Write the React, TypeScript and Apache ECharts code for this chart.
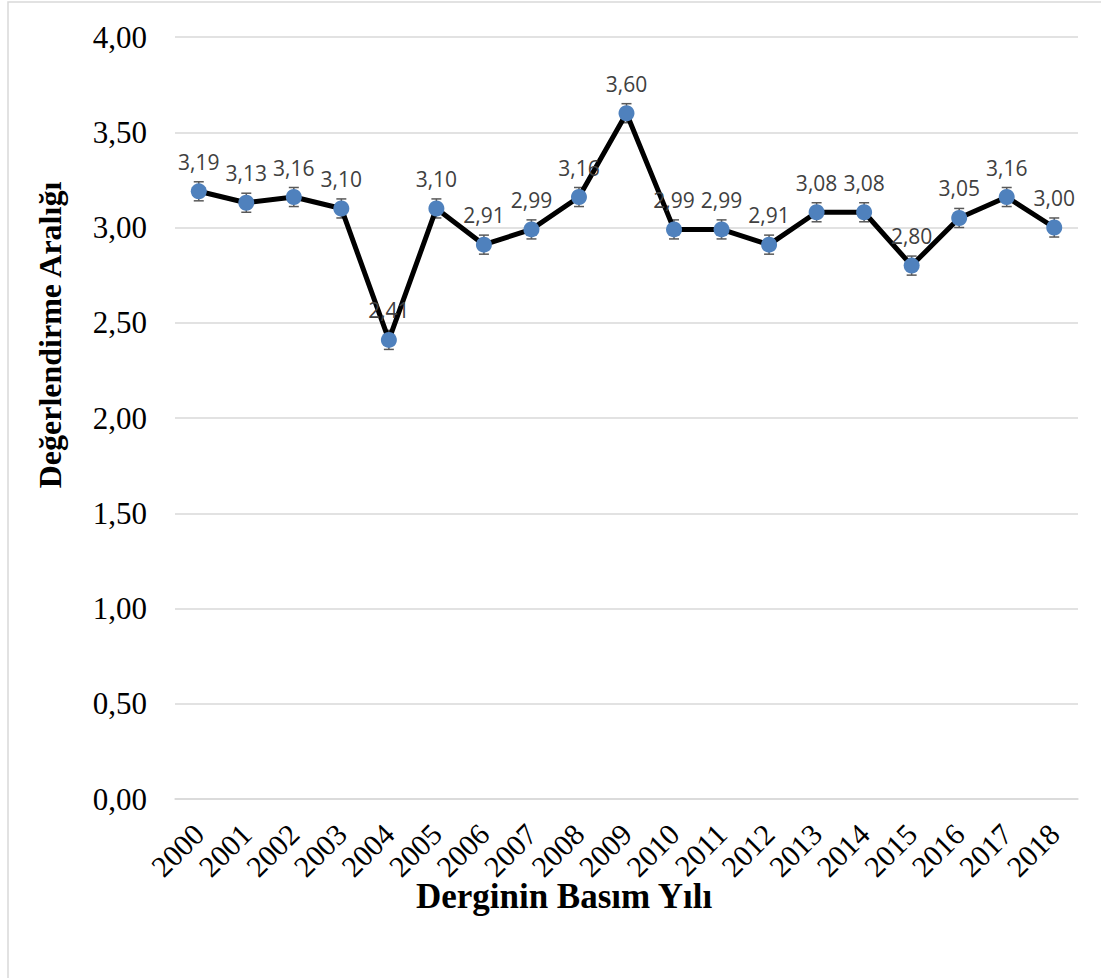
import React, { useEffect, useRef } from "react";
import * as echarts from "echarts";

const years = ["2000","2001","2002","2003","2004","2005","2006","2007","2008","2009","2010","2011","2012","2013","2014","2015","2016","2017","2018"];
const values = [3.19,3.13,3.16,3.10,2.41,3.10,2.91,2.99,3.16,3.60,2.99,2.99,2.91,3.08,3.08,2.80,3.05,3.16,3.00];
const errors = [0.05,0.05,0.05,0.05,0.05,0.05,0.05,0.05,0.05,0.05,0.05,0.05,0.05,0.05,0.05,0.05,0.05,0.05,0.05];
const yTitle = "Değerlendirme Aralığı";
const xTitle = "Derginin Basım Yılı";

const fmt = (v: number) => v.toFixed(2).replace(".", ",");

export default function App() {
  const ref = useRef<HTMLDivElement>(null);
  useEffect(() => {
    if (!ref.current) return;
    const chart = echarts.init(ref.current, null, { renderer: "svg" });
    const errData = values.map((v, i) => [i, v - errors[i], v + errors[i]]);
    chart.setOption({
      animation: false,
      backgroundColor: "#ffffff",
      grid: { left: 175, right: 23, top: 37, bottom: 179, containLabel: false },
      graphic: [
        {
          type: "rect",
          shape: { x: 8, y: 2, width: 1300, height: 1300 },
          style: { fill: "none", stroke: "#d9d9d9", lineWidth: 1.5 },
          silent: true,
          z: -10,
        },
        {
          type: "text",
          x: 50,
          y: 335,
          rotation: Math.PI / 2,
          style: {
            text: yTitle,
            fontFamily: "Liberation Serif",
            fontWeight: "bold",
            fontSize: 32,
            fill: "#000000",
            align: "center",
            verticalAlign: "middle",
          },
        },
        {
          type: "text",
          x: 564,
          y: 896,
          style: {
            text: xTitle,
            fontFamily: "Liberation Serif",
            fontWeight: "bold",
            fontSize: 35,
            fill: "#000000",
            align: "center",
            verticalAlign: "middle",
          },
        },
      ],
      xAxis: {
        type: "category",
        data: years,
        boundaryGap: true,
        axisLine: { show: true, lineStyle: { color: "#d9d9d9", width: 1.5 } },
        axisTick: { show: false },
        axisLabel: {
          interval: 0,
          rotate: 45,
          margin: 30,
          fontFamily: "Liberation Serif",
          fontSize: 30,
          color: "#000000",
        },
      },
      yAxis: {
        type: "value",
        min: 0,
        max: 4,
        interval: 0.5,
        axisLine: { show: false },
        axisTick: { show: false },
        splitLine: { show: true, lineStyle: { color: "#d9d9d9", width: 1.5 } },
        axisLabel: {
          formatter: (v: number) => fmt(v),
          margin: 28,
          fontFamily: "Liberation Serif",
          fontSize: 31,
          color: "#000000",
        },
      },
      series: [
        {
          type: "custom",
          z: 1,
          data: errData,
          renderItem: (params: any, api: any) => {
            const x = api.value(0);
            const lo = api.coord([x, api.value(1)]);
            const hi = api.coord([x, api.value(2)]);
            const hw = 5;
            const style = { stroke: "#595959", lineWidth: 1.5, fill: "none" };
            return {
              type: "group",
              children: [
                { type: "line", shape: { x1: lo[0], y1: lo[1], x2: hi[0], y2: hi[1] }, style },
                { type: "line", shape: { x1: lo[0] - hw, y1: lo[1], x2: lo[0] + hw, y2: lo[1] }, style },
                { type: "line", shape: { x1: hi[0] - hw, y1: hi[1], x2: hi[0] + hw, y2: hi[1] }, style },
              ],
            };
          },
        },
        {
          type: "line",
          z: 2,
          data: values,
          symbol: "circle",
          symbolSize: 16,
          lineStyle: { color: "#000000", width: 5 },
          itemStyle: { color: "#4f81bd", borderWidth: 0 },
          label: {
            show: true,
            position: "top",
            distance: 11,
            formatter: (p: any) => fmt(p.value),
            fontFamily: "Open Sans",
            fontSize: 21,
            color: "#404040",
          },
        },
      ],
    });
    return () => chart.dispose();
  }, []);
  return (
    <div
      ref={ref}
      style={{ position: "fixed", left: 0, top: 0, width: 1101, height: 978 }}
    />
  );
}
